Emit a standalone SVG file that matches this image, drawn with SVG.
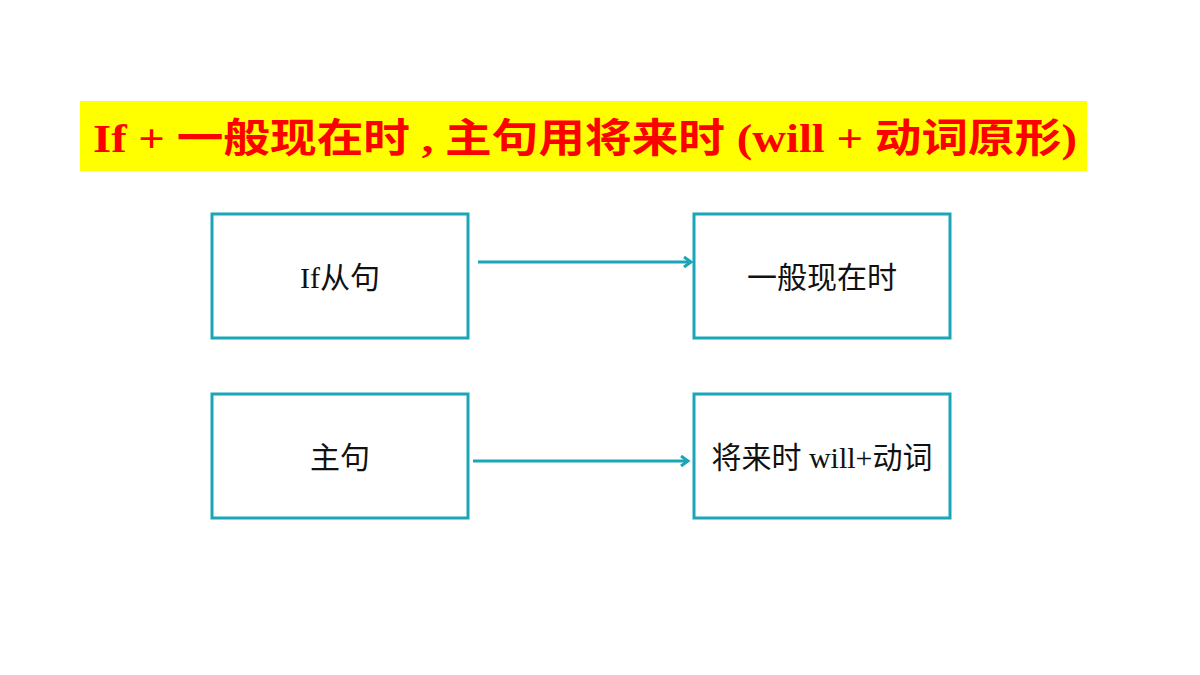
<svg xmlns="http://www.w3.org/2000/svg" width="1200" height="675" viewBox="0 0 1200 675">
<style>
.box{fill:#ffffff;stroke:#1aa6b7;stroke-width:3}
.lbl{font-family:"Liberation Serif","Noto Sans CJK SC",serif;font-size:30px;fill:#111111;text-anchor:middle}
.conn{stroke:#1aa6b7;stroke-width:3;fill:none}
.title{font-family:"Liberation Serif","Noto Sans CJK SC",serif;font-size:40px;font-weight:bold;fill:#ff0000;text-anchor:middle}
</style>
<defs>
<marker id="arr" markerWidth="12" markerHeight="12" refX="9" refY="6" orient="auto" markerUnits="userSpaceOnUse">
<path d="M2,1 L9,6 L2,11" fill="none" stroke="#1aa6b7" stroke-width="3"/>
</marker>
</defs>
<rect width="1200" height="675" fill="#ffffff"/>
<g id="title">
<rect x="80" y="101" width="1007" height="70" fill="#ffff00"/>
<text class="title" x="585" y="152" textLength="984" lengthAdjust="spacingAndGlyphs">If + 一般现在时 , 主句用将来时 (will + 动词原形)</text>
</g>
<g id="node-if">
<rect class="box" x="212" y="214" width="256" height="124"/>
<text class="lbl" x="340" y="288">If从句</text>
</g>
<g id="node-present">
<rect class="box" x="694" y="214" width="256" height="124"/>
<text class="lbl" x="822" y="288">一般现在时</text>
</g>
<g id="node-main">
<rect class="box" x="212" y="394" width="256" height="124"/>
<text class="lbl" x="340" y="468">主句</text>
</g>
<g id="node-future">
<rect class="box" x="694" y="394" width="256" height="124"/>
<text class="lbl" x="822" y="468">将来时 will+动词</text>
</g>
<g id="connectors">
<line class="conn" x1="478" y1="262" x2="691" y2="262" marker-end="url(#arr)"/>
<line class="conn" x1="473" y1="461" x2="688" y2="461" marker-end="url(#arr)"/>
</g>
</svg>
